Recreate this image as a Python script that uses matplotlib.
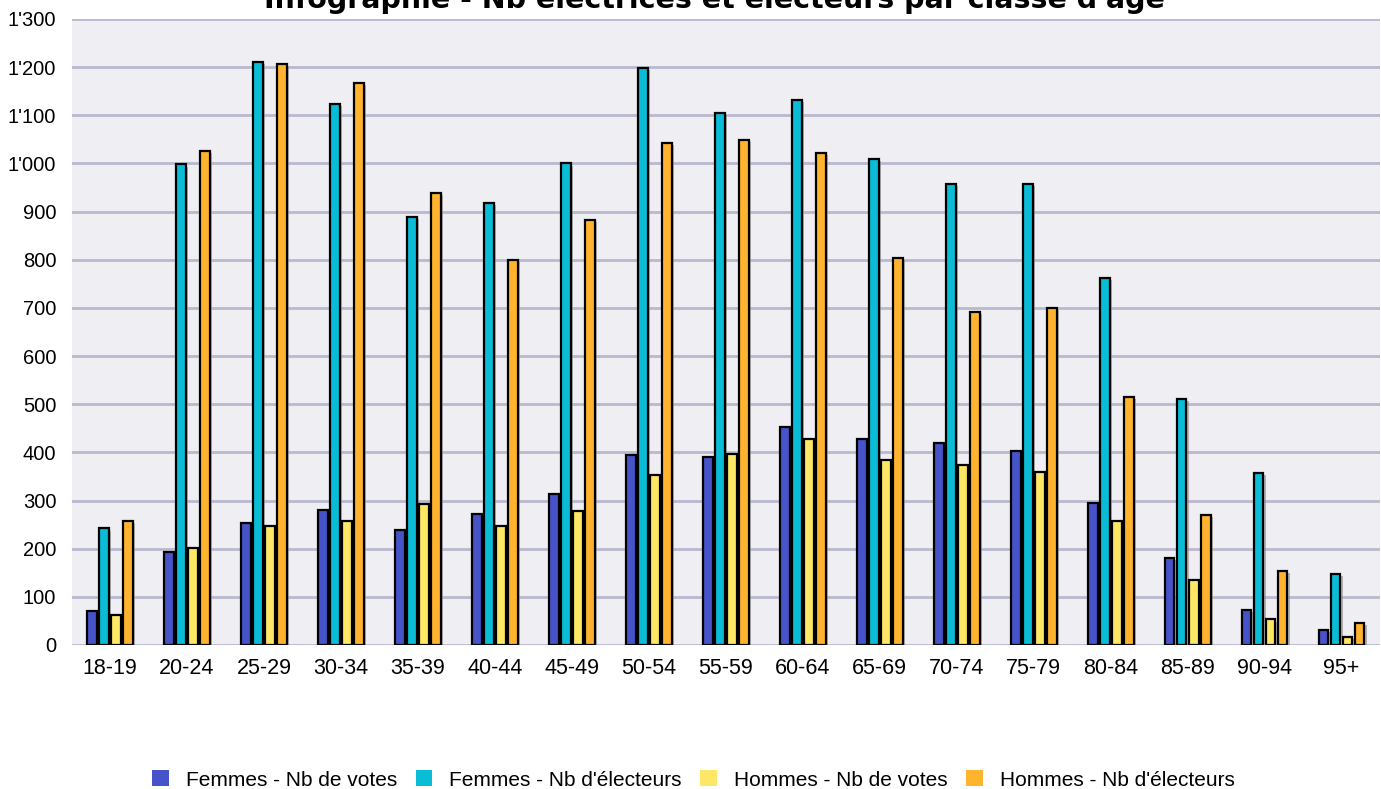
import matplotlib
matplotlib.use("Agg")
import matplotlib.pyplot as plt
import matplotlib.patheffects as pe
from matplotlib.patches import Patch
import numpy as np

categories = ["18-19", "20-24", "25-29", "30-34", "35-39", "40-44", "45-49", "50-54",
              "55-59", "60-64", "65-69", "70-74", "75-79", "80-84", "85-89", "90-94", "95+"]
femmes_votes = [70, 193, 254, 280, 238, 273, 313, 394, 390, 452, 428, 420, 402, 295, 181, 73, 31]
femmes_electeurs = [242, 998, 1210, 1124, 888, 918, 1000, 1198, 1105, 1131, 1010, 957, 957, 763, 511, 358, 148]
hommes_votes = [62, 202, 247, 258, 293, 247, 279, 354, 397, 428, 384, 373, 360, 257, 136, 53, 17]
hommes_electeurs = [257, 1026, 1207, 1167, 938, 800, 882, 1043, 1048, 1021, 803, 691, 700, 516, 271, 153, 45]

series_names = ["Femmes - Nb de votes", "Femmes - Nb d'électeurs",
                "Hommes - Nb de votes", "Hommes - Nb d'électeurs"]
series_values = [femmes_votes, femmes_electeurs, hommes_votes, hommes_electeurs]
colors = ["#4653C9", "#0ABCD5", "#FFE766", "#FFB32E"]
yticks = [0, 100, 200, 300, 400, 500, 600, 700, 800, 900, 1000, 1100, 1200, 1300]
ytick_labels = ["0", "100", "200", "300", "400", "500", "600", "700", "800", "900",
                "1'000", "1'100", "1'200", "1'300"]
title = "Infographie - Nb électrices et électeurs par classe d'âge"

W, H = 1381, 789
fig = plt.figure(figsize=(W / 100, H / 100), dpi=100)
fig.patch.set_facecolor("white")
left, right, top, bottom = 71.5, 1380, 19, 645
ax = fig.add_axes([left / W, 1 - bottom / H, (right - left) / W, (bottom - top) / H])
ax.set_facecolor("#EEEEF3")

x = np.arange(len(categories))
pitch = 0.156
width = 0.128
shadow = [pe.SimplePatchShadow(offset=(1.5, -1.5), shadow_rgbFace="#888888", alpha=0.6), pe.Normal()]
for i, (vals, c) in enumerate(zip(series_values, colors)):
    bars = ax.bar(x + (i - 1.5) * pitch, vals, width=width, color=c,
                  edgecolor="black", linewidth=1.6, zorder=3)
    for b in bars:
        b.set_path_effects(shadow)

ax.set_xlim(-0.5, len(categories) - 0.5)
ax.set_ylim(0, 1300)
ax.set_yticks(yticks)
ax.set_yticklabels(ytick_labels)
ax.set_xticks(x)
ax.set_xticklabels(categories)
ax.grid(axis="y", color="#B9B9CF", linewidth=2, zorder=0)
ax.set_axisbelow(True)
for s in ax.spines.values():
    s.set_visible(False)
ax.tick_params(axis="both", length=0, colors="black")
ax.tick_params(axis="y", pad=11, labelsize=14.5)
ax.tick_params(axis="x", pad=9, labelsize=15.5)
for lab in ax.get_xticklabels() + ax.get_yticklabels():
    lab.set_fontfamily("Liberation Sans")

fig.text(714 / W, 1 - 8 / H, title, ha="center", va="baseline",
         fontsize=20.5, fontweight="bold", family="DejaVu Sans")

handles = [Patch(facecolor=c, edgecolor="none") for c in colors]
leg = fig.legend(handles, series_names, loc="center", bbox_to_anchor=(693.5 / W, 1 - 780 / H),
                 ncol=4, frameon=False, handlelength=0.79, handleheight=0.79,
                 handletextpad=0.82, columnspacing=0.89, borderaxespad=0, borderpad=0,
                 prop={"family": "Liberation Sans", "size": 15})

fig.savefig("out.png", dpi=100)
